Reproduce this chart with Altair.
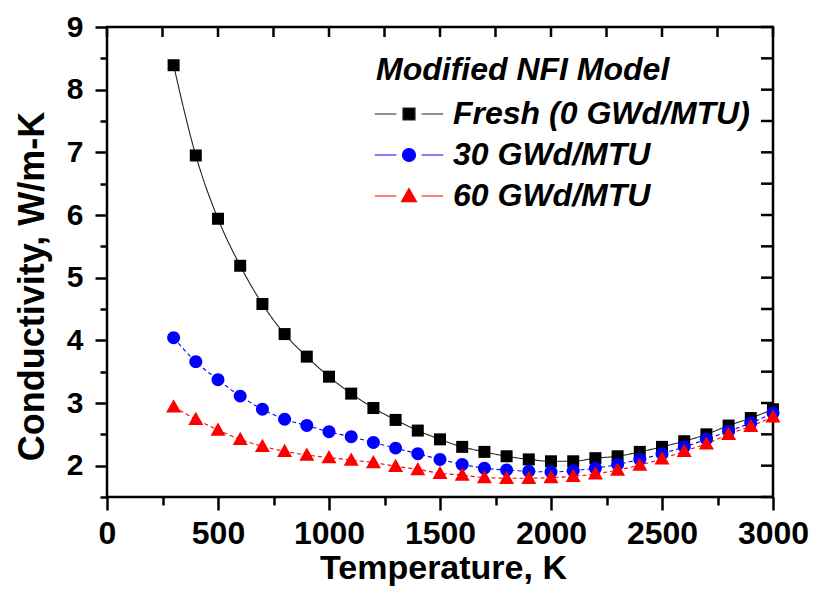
import altair as alt
import pandas as pd

temps = [300, 400, 500, 600, 700, 800, 900, 1000, 1100, 1200, 1300, 1400, 1500, 1600,
         1700, 1800, 1900, 2000, 2100, 2200, 2300, 2400, 2500, 2600, 2700, 2800, 2900, 3000]
fresh = [8.39, 6.95, 5.94, 5.19, 4.58, 4.10, 3.74, 3.42, 3.15, 2.92, 2.73, 2.56, 2.42, 2.30,
         2.22, 2.15, 2.10, 2.07, 2.07, 2.12, 2.15, 2.22, 2.30, 2.39, 2.50, 2.64, 2.76, 2.90]
gwd30 = [4.04, 3.66, 3.37, 3.11, 2.90, 2.74, 2.64, 2.54, 2.46, 2.37, 2.28, 2.19, 2.10, 2.02,
         1.96, 1.93, 1.91, 1.90, 1.92, 1.96, 2.02, 2.10, 2.19, 2.30, 2.42, 2.55, 2.68, 2.84]
gwd60 = [2.94, 2.74, 2.57, 2.42, 2.31, 2.23, 2.17, 2.13, 2.09, 2.05, 1.99, 1.94, 1.88, 1.85,
         1.81, 1.80, 1.80, 1.81, 1.83, 1.87, 1.93, 2.01, 2.11, 2.23, 2.35, 2.50, 2.63, 2.78]

series_names = ["Fresh (0 GWd/MTU)", "30 GWd/MTU", "60 GWd/MTU"]
marker_colors = ["#000000", "#0000ff", "#ff0000"]
line_colors = ["#222222", "#0000ff", "#ff0000"]
line_dashes = [[1, 0], [4, 3], [4, 3]]
legend_title = "Modified NFI Model"
x_title = "Temperature, K"
y_title = "Conductivity, W/m-K"
x_major = [0, 500, 1000, 1500, 2000, 2500, 3000]
x_minor = [250, 750, 1250, 1750, 2250, 2750]
x_top = [0, 250, 500, 750, 1000, 1250, 1500, 1750, 2000, 2250, 2500, 2750, 3000]
y_major = [2, 3, 4, 5, 6, 7, 8, 9]
y_minor = [1.5, 2.5, 3.5, 4.5, 5.5, 6.5, 7.5, 8.5]
y_right = [1.5, 2, 2.5, 3, 3.5, 4, 4.5, 5, 5.5, 6, 6.5, 7, 7.5, 8, 8.5, 9]
x_max, y_max = 3000, 9

FONT = "Liberation Sans"
W, H = 666, 470

# marker shapes (square, circle, triangle) and legend variants with line segments
plot_shapes = ["M-1,-1H1V1H-1Z",
               "M1.08,0A1.08,1.08,0,1,1,-1.08,0A1.08,1.08,0,1,1,1.08,0Z",
               "M0,-1.25L1.25,0.95H-1.25Z"]
seg = "M-5.7,0H-2.1M2.1,0H5.7"
legend_shapes = [s + seg for s in plot_shapes]

rows = []
for name, vals in zip(series_names, [fresh, gwd30, gwd60]):
    for t, v in zip(temps, vals):
        rows.append({"T": t, "K": v, "series": name})
df = pd.DataFrame(rows)

xs = alt.Scale(domain=[0, 3000], nice=False, zero=False)
ys = alt.Scale(domain=[1.5, 9], nice=False, zero=False)

common = dict(grid=False, domain=False, tickColor="black", tickWidth=2.5,
              labelFont=FONT, labelFontWeight="bold", labelColor="black",
              titleFont=FONT, titleFontWeight="bold", titleColor="black")

base = alt.Chart(df)

lines = base.mark_line(strokeWidth=1.1, interpolate="monotone").encode(
    x=alt.X("T:Q", scale=xs, axis=alt.Axis(
        orient="bottom", values=x_major, format="d", tickSize=13, labelFontSize=32,
        labelPadding=8, labelFlush=False, title=x_title, titleFontSize=34,
        titleX=336, titleY=81, titleBaseline="alphabetic", titleAlign="center", **common)),
    y=alt.Y("K:Q", scale=ys, axis=alt.Axis(
        orient="left", values=y_major, format="d", tickSize=12, labelFontSize=30,
        labelPadding=12, labelAlign="right", title=y_title, titleFontSize=36, titleAngle=270,
        titleX=-64, titleY=259, titleBaseline="alphabetic", titleAlign="center", **common)),
    stroke=alt.Stroke("series:N", scale=alt.Scale(domain=series_names, range=line_colors), legend=None),
    strokeDash=alt.StrokeDash("series:N", scale=alt.Scale(domain=series_names, range=line_dashes), legend=None),
)

points = base.mark_point(filled=True, size=144, opacity=1).encode(
    x=alt.X("T:Q", scale=xs, axis=alt.Axis(orient="bottom", values=x_minor, tickSize=8,
                                           labels=False, title="", **common)),
    y=alt.Y("K:Q", scale=ys, axis=alt.Axis(orient="left", values=y_minor, tickSize=7,
                                           labels=False, title="", **common)),
    color=alt.Color("series:N", scale=alt.Scale(domain=series_names, range=marker_colors), legend=None),
    shape=alt.Shape("series:N", scale=alt.Scale(domain=series_names, range=plot_shapes), legend=None),
)

# inward ticks on the top and right frame edges
top_ticks = alt.Chart(pd.DataFrame({"v": x_top})).mark_tick(
    orient="vertical", size=10, thickness=2.5, color="black", opacity=1, yOffset=5
).encode(
    x=alt.X("v:Q", scale=xs, axis=None),
    y=alt.Y(datum=y_max, scale=ys, axis=None),
)
right_ticks = alt.Chart(pd.DataFrame({"v": y_right})).mark_tick(
    orient="horizontal", size=12, thickness=2.5, color="black", opacity=1, xOffset=-6
).encode(
    x=alt.X(datum=x_max, scale=xs, axis=None),
    y=alt.Y("v:Q", scale=ys, axis=None),
)

leg = alt.Legend(title=legend_title, orient="none", legendX=269, legendY=28, padding=0,
                 titleFont=FONT, titleFontSize=32, titleFontStyle="italic", titleFontWeight="bold",
                 titleColor="black", titleLimit=600, titlePadding=11,
                 labelFont=FONT, labelFontSize=32, labelFontStyle="italic", labelFontWeight="bold",
                 labelColor="black", labelLimit=600, symbolSize=144, symbolOffset=17,
                 labelOffset=28, rowPadding=9, symbolStrokeWidth=1.2, symbolOpacity=1,
                 symbolFillColor="white", symbolStrokeColor="black")

legend_layer = base.transform_filter("datum.T < 0").mark_point(
    filled=True, size=144, strokeWidth=1.2, opacity=1
).encode(
    x=alt.X("T:Q", scale=xs, axis=None),
    y=alt.Y("K:Q", scale=ys, axis=None),
    color=alt.Color("series:N", scale=alt.Scale(domain=series_names, range=marker_colors), legend=leg),
    stroke=alt.Stroke("series:N", scale=alt.Scale(domain=series_names, range=line_colors), legend=leg),
    shape=alt.Shape("series:N", scale=alt.Scale(domain=series_names, range=legend_shapes), legend=leg),
)

chart = alt.layer(lines, points, top_ticks, right_ticks, legend_layer).resolve_axis(
    x="independent", y="independent"
).resolve_scale(
    color="independent", stroke="independent", shape="independent"
).properties(
    width=W, height=H,
    padding={"left": 99, "top": 19, "right": 36, "bottom": 90},
    autosize=alt.AutoSizeParams(type="none"),
    background="white",
).configure_view(stroke="black", strokeWidth=2.5)

chart.save("out.html", embed_options={"renderer": "svg", "actions": False})
